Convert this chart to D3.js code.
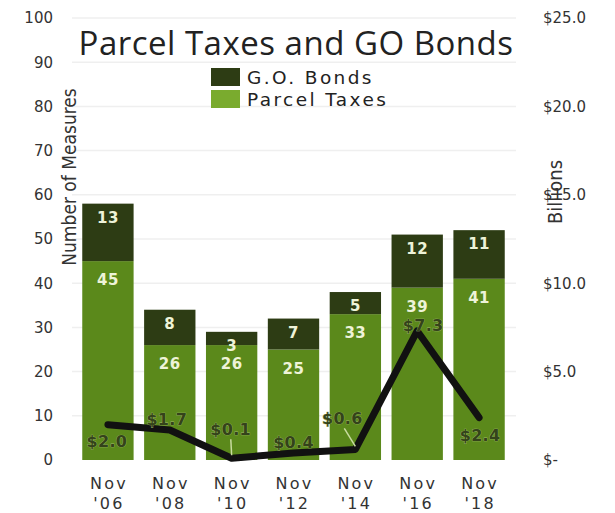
<!DOCTYPE html>
<html>
<head>
<meta charset="utf-8">
<script src="https://cdn.jsdelivr.net/npm/d3@7"></script>
<style>
  html, body { margin: 0; padding: 0; background: #fff; }
  svg { display: block; }
</style>
</head>
<body>
<svg id="chart" width="615" height="513"></svg>
<script>
// Election cycles
const categories = ["Nov '06", "Nov '08", "Nov '10", "Nov '12", "Nov '14", "Nov '16", "Nov '18"];
// Number of measures by type
const parcelTaxes = [45, 26, 26, 25, 33, 39, 41];
const goBonds = [13, 8, 3, 7, 5, 12, 11];
// Dollar amount of parcel taxes (billions)
const billions = [2.0, 1.7, 0.1, 0.4, 0.6, 7.3, 2.4];
// Axis ticks
const leftTicks = [0, 10, 20, 30, 40, 50, 60, 70, 80, 90, 100];
const rightTicks = [0, 5, 10, 15, 20, 25];

const svg = d3.select("#chart");

const x = d3.scaleBand()
  .domain(categories)
  .range([77, 510])
  .paddingInner(0.17)
  .paddingOuter(0.085);

const yLeft = d3.scaleLinear().domain([0, 100]).range([460, 18]);
const yRight = d3.scaleLinear().domain([0, 25]).range([460, 18]);

const C = {
  parcel: "#5b891b",
  parcelLegend: "#7aab2e",
  bonds: "#2d3c14",
  text: "#333",
  segLabel: "#eef3d8"
};

// faint horizontal gridlines
svg.append("g")
  .selectAll("line")
  .data(leftTicks.slice(1))
  .join("line")
  .attr("x1", 72).attr("x2", 516)
  .attr("y1", d => yLeft(d)).attr("y2", d => yLeft(d))
  .attr("stroke", "#efefef")
  .attr("stroke-width", 1.5);

// left axis
const leftAxis = svg.append("g")
  .attr("transform", "translate(53,0)")
  .call(d3.axisLeft(yLeft).tickValues(leftTicks).tickSize(0).tickPadding(0).tickFormat(d3.format("d")));
leftAxis.select(".domain").remove();
leftAxis.selectAll("text")
  .attr("font-family", "DejaVu Sans, sans-serif")
  .attr("font-size", 15)
  .attr("fill", C.text);

// right axis
const rightAxis = svg.append("g")
  .attr("transform", "translate(543,0)")
  .call(d3.axisRight(yRight).tickValues(rightTicks).tickSize(0).tickPadding(0)
    .tickFormat(d => d === 0 ? "$-" : "$" + d3.format(".1f")(d)));
rightAxis.select(".domain").remove();
rightAxis.selectAll("text")
  .attr("font-family", "DejaVu Sans, sans-serif")
  .attr("font-size", 15)
  .attr("fill", C.text);

// axis titles
svg.append("text")
  .attr("transform", `translate(76,177) rotate(-90)`)
  .attr("text-anchor", "middle")
  .attr("font-family", "Liberation Sans Narrow, DejaVu Sans Condensed, sans-serif")
  .attr("font-size", 19)
  .attr("fill", C.text)
  .text("Number of Measures");

svg.append("text")
  .attr("transform", `translate(562,192) rotate(-90)`)
  .attr("text-anchor", "middle")
  .attr("font-family", "Liberation Sans Narrow, DejaVu Sans Condensed, sans-serif")
  .attr("font-size", 20)
  .attr("fill", C.text)
  .text("Billions");

// stacked bars
const stacked = categories.map((c, i) => ({ cat: c, parcel: parcelTaxes[i], bonds: goBonds[i] }));
const series = d3.stack().keys(["parcel", "bonds"])(stacked);
const fills = { parcel: C.parcel, bonds: C.bonds };

const barG = svg.append("g");
series.forEach(s => {
  barG.append("g")
    .selectAll("rect")
    .data(s)
    .join("rect")
    .attr("x", d => x(d.data.cat))
    .attr("width", x.bandwidth())
    .attr("y", d => yLeft(d[1]))
    .attr("height", d => yLeft(d[0]) - yLeft(d[1]))
    .attr("fill", fills[s.key]);
});

// segment value labels near the top of each segment
const segOffset = { parcel: 24, bonds: 19 };
series.forEach(s => {
  barG.append("g")
    .selectAll("text")
    .data(s)
    .join("text")
    .attr("x", d => x(d.data.cat) + x.bandwidth() / 2)
    .attr("y", d => yLeft(d[1]) + segOffset[s.key])
    .attr("text-anchor", "middle")
    .attr("font-family", "DejaVu Sans, sans-serif")
    .attr("font-weight", "bold")
    .attr("font-size", 15)
    .attr("letter-spacing", 0.5)
    .attr("fill", C.segLabel)
    .text(d => d.data[s.key]);
});

// billions line
const pts = billions.map((v, i) => ({ cat: categories[i], v }));
const line = d3.line()
  .x(d => x(d.cat) + x.bandwidth() / 2)
  .y(d => yRight(d.v));

svg.append("path")
  .datum(pts)
  .attr("d", line)
  .attr("fill", "none")
  .attr("stroke", "#111")
  .attr("stroke-width", 7)
  .attr("stroke-linejoin", "round")
  .attr("stroke-linecap", "round");

// label placement relative to each point (dx, dy of text center) and whether a leader is drawn
const labelPlace = [
  { dx: -1, dy: 17, leader: false },
  { dx: -3, dy: -11, leader: false },
  { dx: -1, dy: -29, leader: true },
  { dx: 0, dy: -11, leader: false },
  { dx: -13, dy: -31, leader: true },
  { dx: 6, dy: -6, leader: false },
  { dx: 1, dy: 18, leader: false }
];

const lblG = svg.append("g");
pts.forEach((d, i) => {
  const px = x(d.cat) + x.bandwidth() / 2;
  const py = yRight(d.v);
  const p = labelPlace[i];
  if (p.leader) {
    lblG.append("line")
      .attr("x1", px + p.dx * 0.85).attr("y1", py + p.dy + 10)
      .attr("x2", px).attr("y2", py - 3)
      .attr("stroke", "#c9dca0")
      .attr("stroke-width", 1.5);
  }
  lblG.append("text")
    .attr("x", px + p.dx)
    .attr("y", py + p.dy)
    .attr("dy", "0.35em")
    .attr("text-anchor", "middle")
    .attr("font-family", "DejaVu Sans, sans-serif")
    .attr("font-weight", "bold")
    .attr("font-size", 16)
    .attr("letter-spacing", 0.3)
    .attr("fill", "#34431a")
    .attr("stroke", "#9fb86a")
    .attr("stroke-width", 0.7)
    .attr("paint-order", "stroke")
    .text("$" + d3.format(".1f")(d.v));
});

// x axis labels (two lines)
const xLab = svg.append("g")
  .selectAll("text")
  .data(categories)
  .join("text")
  .attr("text-anchor", "middle")
  .attr("font-family", "DejaVu Sans, sans-serif")
  .attr("font-size", 16)
  .attr("fill", C.text)
  .attr("letter-spacing", 2.2)
  .attr("transform", d => `translate(${x(d) + x.bandwidth() / 2 + 1},0)`);
xLab.append("tspan").attr("x", 0).attr("y", 489).text(d => d.split(" ")[0]);
xLab.append("tspan").attr("x", 0).attr("y", 509).text(d => d.split(" ")[1]);

// title
svg.append("text")
  .attr("x", 296)
  .attr("y", 55)
  .attr("text-anchor", "middle")
  .attr("font-family", "Open Sans, sans-serif")
  .attr("font-size", 33)
  .attr("letter-spacing", 0.5)
  .attr("fill", "#222")
  .text("Parcel Taxes and GO Bonds");

// legend
const legendItems = [
  { name: "G.O. Bonds", color: C.bonds },
  { name: "Parcel Taxes", color: C.parcelLegend }
];
const lg = svg.append("g").attr("transform", "translate(211,68)");
legendItems.forEach((it, i) => {
  const g = lg.append("g").attr("transform", `translate(0,${i * 22})`);
  g.append("rect").attr("width", 29).attr("height", 18).attr("fill", it.color);
  g.append("text")
    .attr("x", 36).attr("y", 9).attr("dy", "0.36em")
    .attr("font-family", "DejaVu Sans, sans-serif")
    .attr("font-size", 18.5)
    .attr("letter-spacing", 2.4)
    .attr("fill", "#222")
    .text(it.name);
});
</script>
</body>
</html>
